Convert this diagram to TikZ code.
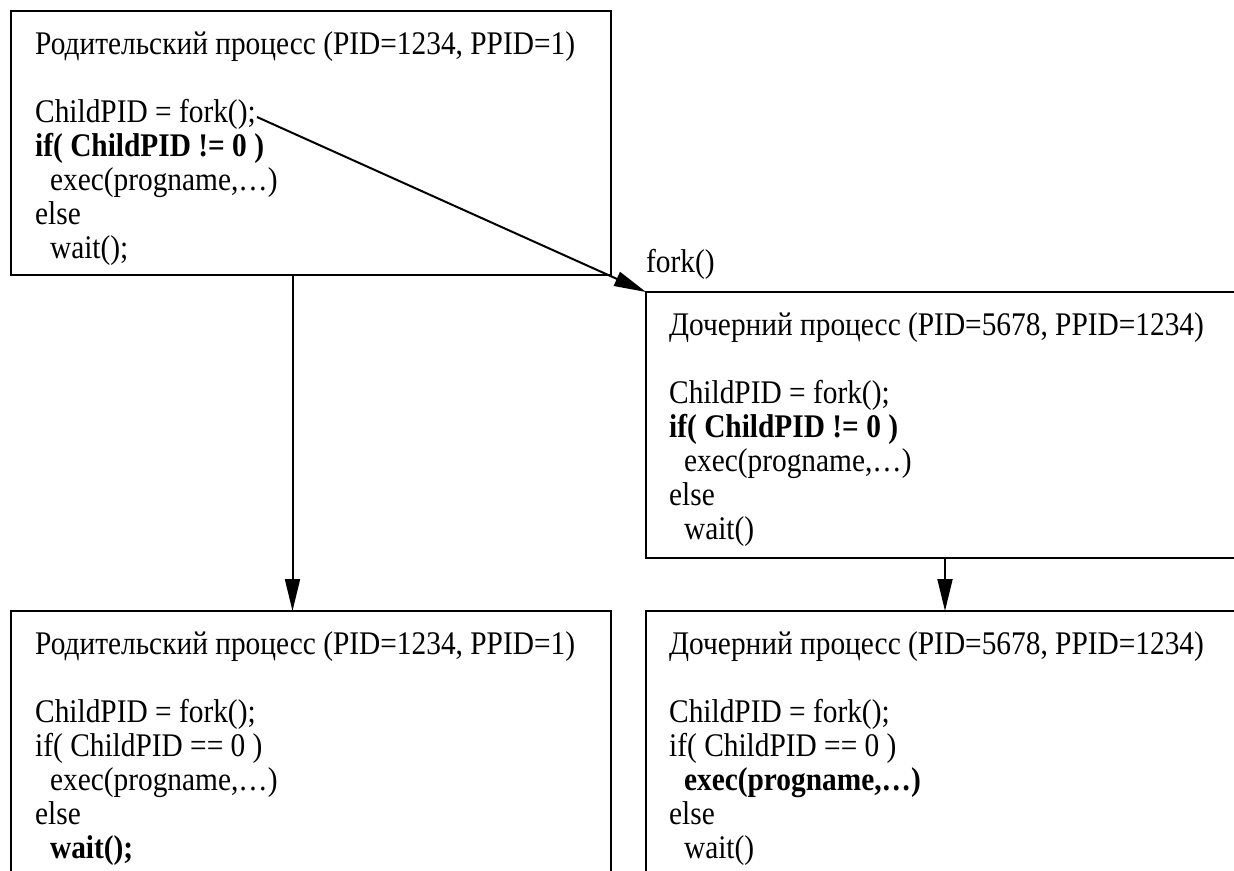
\documentclass[tikz,border=0pt]{standalone}
\usepackage{fontspec}
\setmainfont[FakeStretch=0.89]{Liberation Serif}
\usetikzlibrary{arrows.meta}
% body text of the process listings
\newcommand\codefont{\fontsize{33pt}{34pt}\selectfont}
% fixed height for the first line, so the listing's top edge is predictable
\newcommand\firststrut{\rule{0pt}{25pt}}
\newcommand\ind{\hspace*{0.45em}}
\begin{document}
\begin{tikzpicture}[x=1pt,y=-1pt,
  procbox/.style={draw, line width=2pt, rectangle, outer sep=0pt, inner sep=0pt, anchor=north west},
  listing/.style={align=left, inner sep=0pt, anchor=north west, font=\codefont},
  conn/.style={draw, line width=2pt, -{Triangle[length=32pt,width=15pt]}}]
\useasboundingbox (0,0) rectangle (1234,870);
\clip (0,0) rectangle (1234,870);

% boxes
\node[procbox, minimum width=600pt, minimum height=264pt] (parent) at (11,11) {};
\node[procbox, minimum width=610pt, minimum height=266pt] (child) at (646,292) {};
\node[procbox, minimum width=600pt, minimum height=300pt] (parentafter) at (11,611) {};
\node[procbox, minimum width=610pt, minimum height=300pt] (childafter) at (646,611) {};

% listings
\node[listing] (parenttext) at (35,29) {\firststrut Родительский процесс (PID=1234, PPID=1)\\[34pt]
ChildPID = fork();\\
\textbf{if( ChildPID != 0 )}\\
\ind exec(progname,…)\\
else\\
\ind wait();};

\node[listing] (childtext) at (669,310) {\firststrut Дочерний процесс (PID=5678, PPID=1234)\\[34pt]
ChildPID = fork();\\
\textbf{if( ChildPID != 0 )}\\
\ind exec(progname,…)\\
else\\
\ind wait()};

\node[listing] (parentaftertext) at (35,629) {\firststrut Родительский процесс (PID=1234, PPID=1)\\[34pt]
ChildPID = fork();\\
if( ChildPID == 0 )\\
\ind exec(progname,…)\\
else\\
\ind \textbf{wait();}};

\node[listing] (childaftertext) at (669,629) {\firststrut Дочерний процесс (PID=5678, PPID=1234)\\[34pt]
ChildPID = fork();\\
if( ChildPID == 0 )\\
\ind \textbf{exec(progname,…)}\\
else\\
\ind wait()};

% connectors
\coordinate (forkcall) at (257,117);
\draw[conn] (forkcall) -- (child.north west);
\node[anchor=base west, inner sep=0pt, font=\codefont] (forklabel) at (646,272) {fork()};
\draw[conn] ([xshift=281.5pt]parent.south west) -- ([xshift=281.5pt]parentafter.north west);
\draw[conn] ([xshift=299pt]child.south west) -- ([xshift=299pt]childafter.north west);
\end{tikzpicture}
\end{document}
